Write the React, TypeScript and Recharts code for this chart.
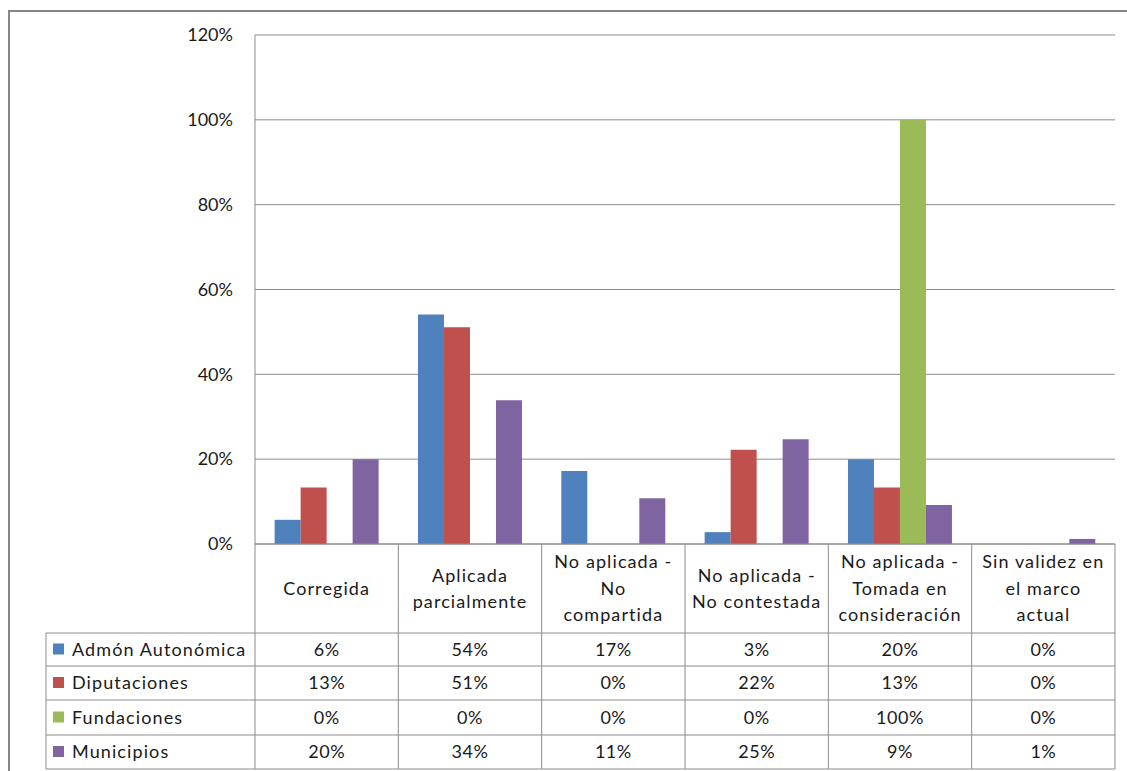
import { BarChart, Bar, XAxis, YAxis, CartesianGrid } from "recharts"

const categories = [
  ["Corregida"],
  ["Aplicada", "parcialmente"],
  ["No aplicada -", "No", "compartida"],
  ["No aplicada -", "No contestada"],
  ["No aplicada -", "Tomada en", "consideración"],
  ["Sin validez en", "el marco", "actual"],
]

const seriesNames = ["Admón Autonómica", "Diputaciones", "Fundaciones", "Municipios"]
const seriesColors = ["#4F81BD", "#C0504D", "#9BBB59", "#8064A2"]

// percentages (table shows them rounded)
const admon = [5.7, 54.1, 17.2, 2.8, 20, 0]
const diputaciones = [13.3, 51.1, 0, 22.2, 13.3, 0]
const fundaciones = [0, 0, 0, 0, 100, 0]
const municipios = [20, 33.9, 10.8, 24.7, 9.2, 1.2]

const yTicks = [0, 20, 40, 60, 80, 100, 120]

const seriesValues = [admon, diputaciones, fundaciones, municipios]
const seriesKeys = ["admon", "diputaciones", "fundaciones", "municipios"]

const chartData = categories.map((lines, i) => ({
  cat: lines.join(" "),
  admon: admon[i],
  diputaciones: diputaciones[i],
  fundaciones: fundaciones[i],
  municipios: municipios[i],
}))

const W = 1119
const H = 761
const PLOT_LEFT = 247
const PLOT_TOP = 25
const PLOT_RIGHT = 1107
const PLOT_BOTTOM = 534
const BAND = (PLOT_RIGHT - PLOT_LEFT) / categories.length
const HEADER_BOTTOM = 623
const ROW_LINES = [623, 656, 690, 725, 759]
const TABLE_LEFT = 38
const LINE = "#8C8C8C"
const FONT = "Lato, 'Noto Sans', sans-serif"
const TEXT = "#1a1a1a"
const SPACING = 1.1

function CategoryCell(props: any) {
  const { x, payload } = props
  const idx = payload.index
  const lines: string[] = categories[idx]
  const left = x - BAND / 2
  const right = x + BAND / 2
  const lh = 26.5
  const midY = (PLOT_BOTTOM + HEADER_BOTTOM) / 2
  const firstY = midY - ((lines.length - 1) * lh) / 2
  return (
    <g>
      {idx === 0 && (
        <g>
          <line x1={left} y1={PLOT_BOTTOM} x2={left} y2={ROW_LINES[ROW_LINES.length - 1]} stroke={LINE} />
          <line x1={TABLE_LEFT} y1={ROW_LINES[0]} x2={TABLE_LEFT} y2={ROW_LINES[ROW_LINES.length - 1]} stroke={LINE} />
          {ROW_LINES.map((ly) => (
            <line key={ly} x1={TABLE_LEFT} y1={ly} x2={left} y2={ly} stroke={LINE} />
          ))}
          {seriesNames.map((name, r) => {
            const cy = (ROW_LINES[r] + ROW_LINES[r + 1]) / 2
            return (
              <g key={name}>
                <rect x={TABLE_LEFT + 7} y={cy - 6} width={11} height={11} fill={seriesColors[r]} />
                <text
                  x={TABLE_LEFT + 26}
                  y={cy}
                  dy="0.35em"
                  fontSize={18}
                  fontFamily={FONT}
                  fill={TEXT}
                  letterSpacing={SPACING}
                >
                  {name}
                </text>
              </g>
            )
          })}
        </g>
      )}
      <line x1={right} y1={PLOT_BOTTOM} x2={right} y2={ROW_LINES[ROW_LINES.length - 1]} stroke={LINE} />
      {ROW_LINES.map((ly) => (
        <line key={ly} x1={left} y1={ly} x2={right} y2={ly} stroke={LINE} />
      ))}
      {lines.map((t, k) => (
        <text
          key={k}
          x={x}
          y={firstY + k * lh}
          dy="0.35em"
          textAnchor="middle"
          fontSize={18}
          fontFamily={FONT}
          fill={TEXT}
          letterSpacing={SPACING}
        >
          {t}
        </text>
      ))}
      {seriesValues.map((vals, r) => {
        const cy = (ROW_LINES[r] + ROW_LINES[r + 1]) / 2
        return (
          <text
            key={r}
            x={x}
            y={cy}
            dy="0.35em"
            textAnchor="middle"
            fontSize={18}
            fontFamily={FONT}
            fill={TEXT}
            letterSpacing={0.5}
          >
            {Math.round(vals[idx])}%
          </text>
        )
      })}
    </g>
  )
}

function PercentTick(props: any) {
  const { y, payload } = props
  return (
    <text x={PLOT_LEFT - 22} y={y} dy="0.35em" textAnchor="end" fontSize={18} fontFamily={FONT} fill={TEXT}>
      {payload.value}%
    </text>
  )
}

export default function App() {
  return (
    <>
      <style>{"html,body{overflow:hidden}"}</style>
      <div
        style={{
          position: "fixed",
          left: 8,
          top: 10,
          width: W,
          height: H,
          borderTop: "2px solid #868686",
          borderLeft: "2px solid #868686",
          boxSizing: "border-box",
          background: "#fff",
        }}
      >
        <div style={{ position: "absolute", left: -2, top: -2 }}>
          <BarChart
            width={W}
            height={H}
            data={chartData}
            margin={{ top: PLOT_TOP, right: W - PLOT_RIGHT, left: 0, bottom: 0 }}
            barCategoryGap="13.7%"
            barGap={0}
          >
            <CartesianGrid vertical={false} stroke={LINE} />
            <YAxis
              width={PLOT_LEFT}
              domain={[0, 120]}
              ticks={yTicks}
              interval={0}
              tickLine={false}
              axisLine={{ stroke: LINE }}
              tick={<PercentTick />}
            />
            <XAxis
              dataKey="cat"
              height={H - PLOT_BOTTOM}
              interval={0}
              tickLine={false}
              axisLine={{ stroke: LINE }}
              tick={<CategoryCell />}
            />
            {seriesKeys.map((k, i) => (
              <Bar key={k} dataKey={k} name={seriesNames[i]} fill={seriesColors[i]} isAnimationActive={false} />
            ))}
          </BarChart>
        </div>
      </div>
    </>
  )
}
